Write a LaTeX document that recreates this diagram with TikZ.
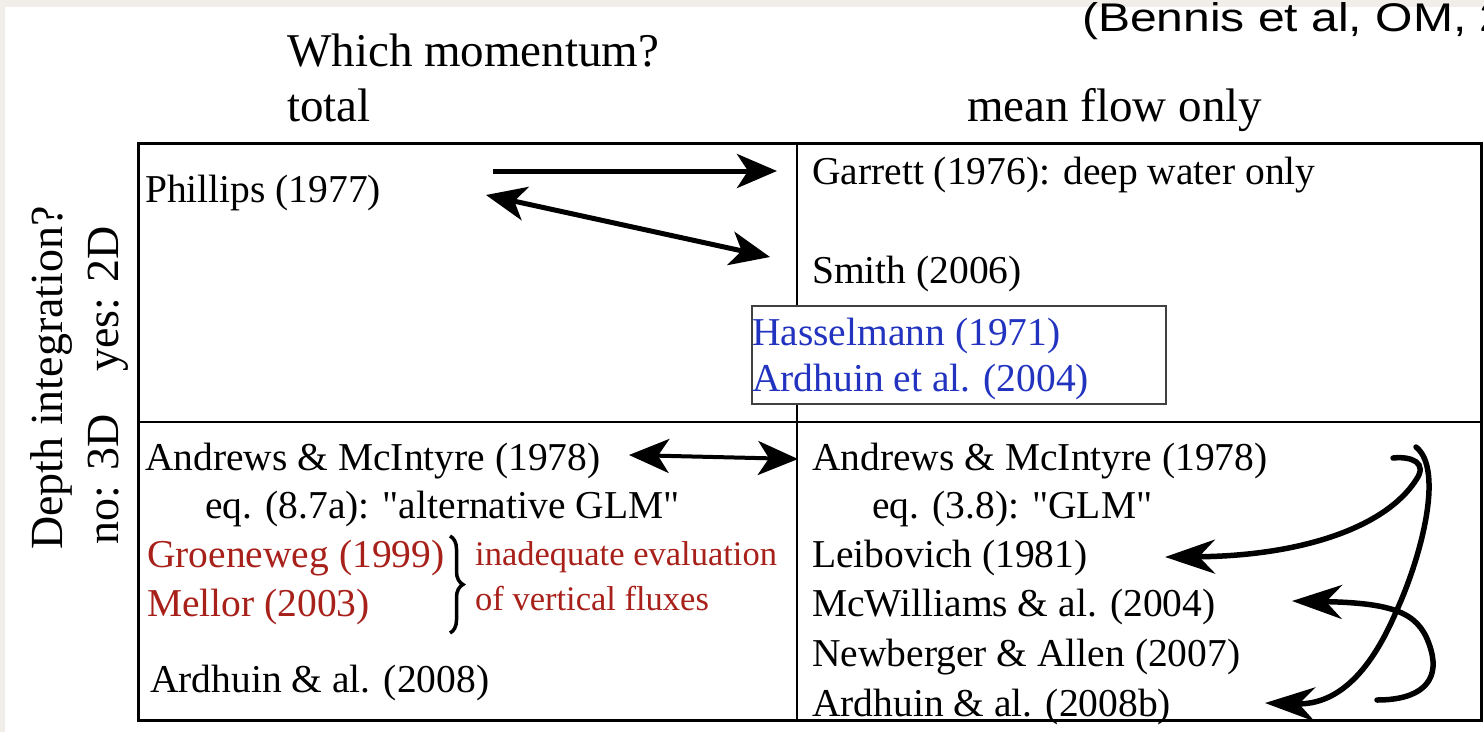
\documentclass[tikz,border=0pt]{standalone}
\usepackage{fontspec}
\setmainfont{Liberation Serif}
\newfontfamily\sansf{Liberation Sans}
\usetikzlibrary{arrows.meta,decorations.pathreplacing}
\definecolor{pagebg}{HTML}{F1EEE9}
\definecolor{refred}{HTML}{A8201A}
\definecolor{refblue}{HTML}{2233C0}
\begin{document}
\begin{tikzpicture}[x=1pt,y=-1pt,
 txt/.style={anchor=base west,inner sep=0pt,font=\fontsize{39.5}{47}\selectfont},
 head/.style={anchor=base west,inner sep=0pt,font=\fontsize{47}{56}\selectfont},
 side/.style={anchor=base west,inner sep=0pt,rotate=90,font=\fontsize{46}{55}\selectfont},
 small/.style={anchor=base west,inner sep=0pt,font=\fontsize{34.5}{41}\selectfont,text=refred},
 redtxt/.style={txt,text=refred},
 bluetxt/.style={txt,text=refblue},
 tipA/.tip={Stealth[length=40pt,width=34pt,inset=11pt]},
 tipC/.tip={Stealth[length=50pt,width=34pt,inset=16pt]},
 arr/.style={line width=5pt,-tipA},
 darr/.style={line width=5pt,tipA-tipA},
 carr/.style={line width=5.5pt,line cap=round,-tipC},
 gridline/.style={line width=3pt},
 innerline/.style={line width=2.5pt}]
% page
\path[use as bounding box,fill=pagebg] (0,0) rectangle (1484,732);
\fill[white] (5,7) rectangle (1484,732);
% citation
\node[anchor=base west,inner sep=0pt,xscale=1.2,font=\sansf\fontsize{40}{47}\selectfont] (cite) at (1082,31) {(Bennis et al, OM, 2};
% headers
\node[head] (which) at (287,66) {Which momentum?};
\node[head] (total) at (287,121) {total};
\node[head] (mean) at (967,121) {mean flow only};
% side labels
\node[side] (depth) at (62,550) {Depth integration?};
\node[side] (no3d) at (118,545) {no: 3D};
\node[side] (yes2d) at (118,372) {yes: 2D};
% table
\draw[gridline] (138,143) rectangle (1481,720);
\draw[innerline] (797,143) -- (797,720);
\draw[innerline] (138,422) -- (1481,422);
% box
\node[draw=black!75,line width=1.5pt,fill=white,anchor=north west,inner sep=0pt,minimum width=414pt,minimum height=98pt] (hbox) at (751,305) {};
\node[bluetxt] (hass) at (752,345) {Hasselmann (1971)};
\node[bluetxt] (ard04) at (752,391) {Ardhuin et al. (2004)};
% upper cells
\node[txt] (phil) at (145,202) {Phillips (1977)};
\node[txt] (garr) at (812,184) {Garrett (1976): deep water only};
\node[txt] (smith) at (812,283) {Smith (2006)};
% lower left
\node[txt] (amL) at (145,470) {Andrews \& McIntyre (1978)};
\node[txt] (eqL) at (205,518) {eq. (8.7a): \textquotedbl alternative GLM\textquotedbl};
\node[redtxt] (groen) at (147,567) {Groeneweg (1999)};
\node[redtxt] (mell) at (147,616) {Mellor (2003)};
\node[txt] (ard08) at (150,692) {Ardhuin \& al. (2008)};
\coordinate (brTop) at (450,536);
\coordinate (brBot) at (450,633);
\draw[line width=3.5pt,decorate,decoration={brace,amplitude=13pt}] (brTop) -- (brBot);
\node[small] (inad) at (475,565) {inadequate evaluation};
\node[small] (vert) at (475,610) {of vertical fluxes};
% lower right
\node[txt] (amR) at (812,470) {Andrews \& McIntyre (1978)};
\node[txt] (eqR) at (872,518) {eq. (3.8): \textquotedbl GLM\textquotedbl};
\node[txt] (leib) at (812,567) {Leibovich (1981)};
\node[txt] (mcw) at (812,616) {McWilliams \& al. (2004)};
\node[txt] (newb) at (812,666) {Newberger \& Allen (2007)};
\node[txt] (ard08b) at (812,716) {Ardhuin \& al. (2008b)};
% arrow end points
\coordinate (a1s) at (493,171);
\coordinate (a1e) at (777,171);
\coordinate (a2s) at (486,195);
\coordinate (a2e) at (770,257);
\coordinate (a3s) at (629,455);
\coordinate (a3e) at (798,459);
\coordinate (c1s) at (1393,458);
\coordinate (c1e) at (1165,557);
\coordinate (c2s) at (1416,447);
\coordinate (c2e) at (1265,703);
\coordinate (c3s) at (1377,700);
\coordinate (c3e) at (1292,601);
% arrows
\draw[arr] (a1s) -- (a1e);
\draw[darr] (a2s) -- (a2e);
\draw[darr,line width=4pt] (a3s) -- (a3e);
\draw[carr] (c1s) .. controls (1412,456) and (1428,463) .. (1416,480) .. controls (1385,528) and (1300,556) .. (c1e);
\draw[carr] (c2s) .. controls (1445,470) and (1420,560) .. (1396,612) .. controls (1372,668) and (1340,705) .. (c2e);
\draw[carr] (c3s) .. controls (1420,700) and (1440,682) .. (1431,650) .. controls (1421,615) and (1400,603) .. (c3e);
\end{tikzpicture}
\end{document}
